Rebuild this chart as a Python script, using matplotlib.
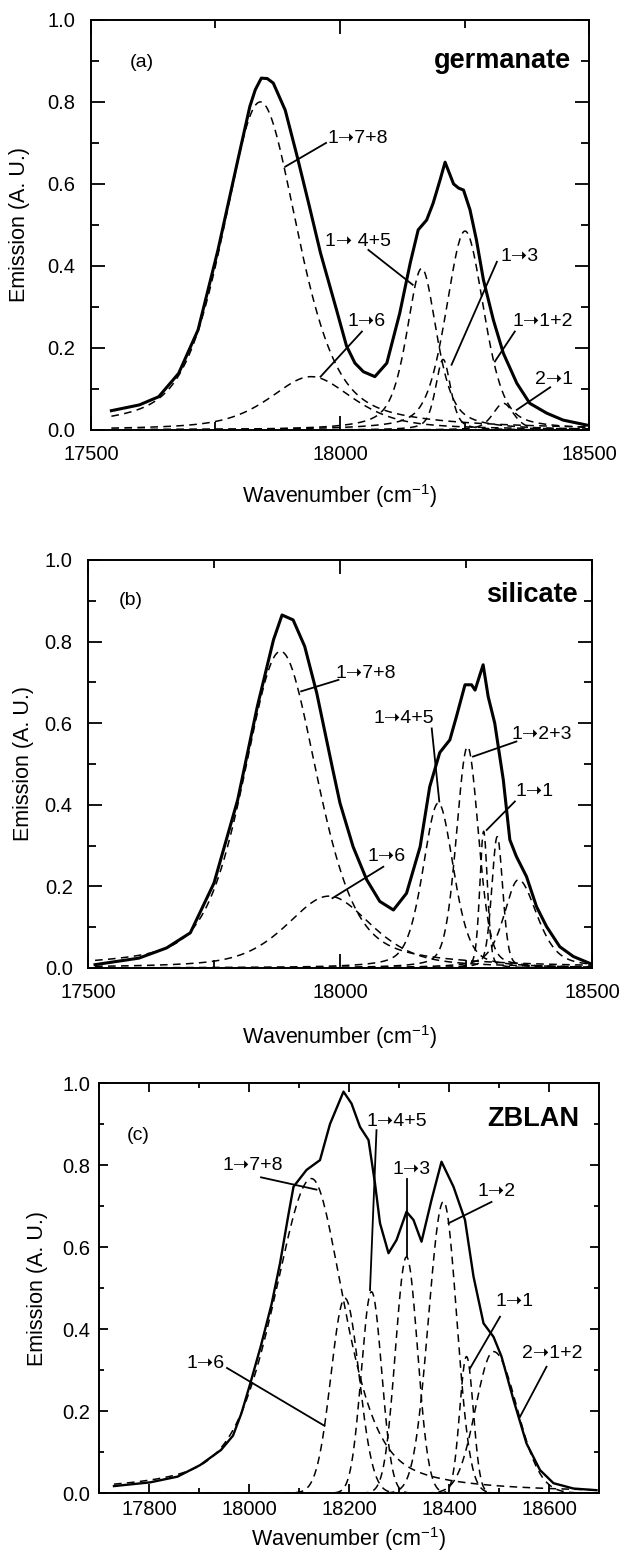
import numpy as np
import matplotlib.pyplot as plt
from matplotlib.ticker import MultipleLocator

plt.rcParams['font.family'] = ['Liberation Sans', 'DejaVu Sans']
plt.rcParams['mathtext.fontset'] = 'custom'
plt.rcParams['mathtext.rm'] = 'Liberation Sans'
plt.rcParams['mathtext.it'] = 'Liberation Sans:italic'

ARR = "\u279D"

germ_x = [17541, 17597, 17636, 17676, 17715, 17755, 17795, 17819, 17830, 17842,
          17854, 17866, 17890, 17914, 17937, 17961, 17993, 18013, 18030, 18047,
          18070, 18094, 18120, 18141, 18157, 18174, 18187, 18201, 18211, 18228,
          18238, 18248, 18261, 18274, 18288, 18308, 18328, 18355, 18381, 18415,
          18448, 18495]
germ_y = [0.047, 0.061, 0.081, 0.138, 0.244, 0.439, 0.659, 0.789, 0.83, 0.858,
          0.857, 0.846, 0.78, 0.667, 0.553, 0.431, 0.293, 0.205, 0.163, 0.142,
          0.13, 0.163, 0.285, 0.407, 0.488, 0.512, 0.553, 0.61, 0.653, 0.60,
          0.59, 0.585, 0.537, 0.463, 0.366, 0.268, 0.187, 0.114, 0.065, 0.041,
          0.024, 0.012]
# fitted components: centre, height, half widths (low / high side), lorentzian fraction
germ_center = [17840, 17942, 18164, 18207, 18251, 18328]
germ_height = [0.80, 0.13, 0.394, 0.172, 0.485, 0.065]
germ_wlo = [90, 100, 36, 18, 45, 25]
germ_whi = [90, 100, 36, 18, 45, 25]
germ_eta = [0.5, 0.6, 0.6, 0.5, 0.4, 0.5]

# ---- (b) silicate
sil_x = [17514, 17601, 17656, 17703, 17750, 17797, 17836, 17868, 17885, 17907,
         17930, 17954, 17985, 18000, 18026, 18053, 18079, 18106, 18132, 18159,
         18178, 18198, 18218, 18231, 18248, 18261, 18268, 18278, 18284, 18294,
         18307, 18324, 18337, 18350, 18370, 18390, 18410, 18436, 18463, 18496]
sil_y = [0.008, 0.024, 0.049, 0.086, 0.208, 0.412, 0.641, 0.804, 0.865, 0.853,
         0.788, 0.673, 0.49, 0.404, 0.297, 0.216, 0.163, 0.142, 0.183, 0.297,
         0.444, 0.528, 0.559, 0.616, 0.694, 0.694, 0.681, 0.72, 0.743, 0.665,
         0.60, 0.461, 0.314, 0.273, 0.224, 0.15, 0.101, 0.052, 0.028, 0.011]
sil_center = [17882, 17978, 18195, 18253, 18285, 18312, 18354]
sil_height = [0.776, 0.176, 0.404, 0.542, 0.335, 0.322, 0.216]
sil_wlo = [87, 100, 36, 26, 9, 13, 34]
sil_whi = [87, 100, 36, 26, 9, 13, 44]
sil_eta = [0.45, 0.5, 0.4, 0.3, 0.3, 0.3, 0.5]

# ---- (c) ZBLAN
zb_x = [17730, 17802, 17857, 17902, 17944, 17968, 17985, 18002, 18024, 18045,
        18062, 18079, 18089, 18115, 18142, 18162, 18189, 18205, 18222, 18239,
        18252, 18262, 18279, 18295, 18315, 18329, 18345, 18365, 18385, 18409,
        18432, 18449, 18469, 18489, 18505, 18529, 18555, 18582, 18609, 18649,
        18695]
zb_y = [0.017, 0.026, 0.04, 0.068, 0.105, 0.14, 0.195, 0.265, 0.36, 0.46,
        0.56, 0.68, 0.747, 0.788, 0.812, 0.90, 0.979, 0.95, 0.893, 0.861,
        0.755, 0.658, 0.585, 0.617, 0.686, 0.666, 0.613, 0.715, 0.808, 0.747,
        0.666, 0.528, 0.414, 0.381, 0.333, 0.227, 0.121, 0.056, 0.024, 0.011,
        0.007]
zb_center = [18125, 18192, 18245, 18315, 18389, 18435, 18489]
zb_height = [0.767, 0.475, 0.491, 0.576, 0.711, 0.333, 0.345]
zb_wlo = [92, 33, 24, 26, 35, 16, 42]
zb_whi = [78, 33, 24, 26, 31, 16, 55]
zb_eta = [0.55, 0, 0, 0, 0, 0, 0]


def component(x, c, h, wlo, whi, eta):
    w = np.where(x < c, wlo, whi)
    d = (x - c) / w
    return h * ((1 - eta) * np.exp(-np.log(2) * d ** 2) + eta / (1 + d ** 2))


# label text position, then pointer line start -> end (data coords)
germ_labels = [
    ("1" + ARR + "7+8", 18036, 0.711, (17972, 0.70), (17890, 0.642)),
    ("1" + ARR + " 4+5", 18036, 0.459, (18057, 0.439), (18146, 0.354)),
    ("1" + ARR + "3", 18361, 0.423, (18315, 0.41), (18224, 0.159)),
    ("1" + ARR + "6", 18054, 0.264, (18044, 0.24), (17961, 0.13)),
    ("1" + ARR + "1+2", 18408, 0.264, (18351, 0.24), (18311, 0.167)),
    ("2" + ARR + "1", 18430, 0.122, (18422, 0.104), (18355, 0.049)),
]
sil_labels = [
    ("1" + ARR + "7+8", 18052, 0.722, (17997, 0.706), (17923, 0.678)),
    ("1" + ARR + "4+5", 18126, 0.612, (18182, 0.587), (18197, 0.408)),
    ("1" + ARR + "2+3", 18401, 0.571, (18350, 0.555), (18264, 0.518)),
    ("1" + ARR + "1", 18387, 0.432, (18347, 0.408), (18291, 0.338)),
    ("1" + ARR + "6", 18093, 0.273, (18086, 0.248), (17985, 0.171)),
]
zb_labels = [
    ("1" + ARR + "7+8", 18008, 0.80, (18024, 0.77), (18135, 0.74)),
    ("1" + ARR + "4+5", 18295, 0.906, (18255, 0.885), (18242, 0.495)),
    ("1" + ARR + "3", 18325, 0.788, (18315, 0.767), (18315, 0.576)),
    ("1" + ARR + "2", 18495, 0.735, (18485, 0.71), (18399, 0.658)),
    ("1" + ARR + "1", 18532, 0.467, (18502, 0.43), (18442, 0.304)),
    ("2" + ARR + "1+2", 18607, 0.341, (18595, 0.308), (18542, 0.186)),
    ("1" + ARR + "6", 17913, 0.317, (17956, 0.305), (18151, 0.164)),
]

panels = [
    dict(rect=[0.1465, 0.7258, 0.802, 0.2615], xlim=(17500, 18500), major=500, minor=250,
         tx=germ_x, ty=germ_y, pk=(germ_center, germ_height, germ_wlo, germ_whi, germ_eta),
         labels=germ_labels, tag="(a)", tagpos=(17602, 0.895), name="germanate",
         namepos=(18464, 0.90), lw=2.2, tick=(10, 5.5), pad=11, ypad=11.5,
         xl=-0.127, yl=-0.1225),
    dict(rect=[0.1417, 0.3827, 0.8116, 0.2602], xlim=(17500, 18500), major=500, minor=250,
         tx=sil_x, ty=sil_y, pk=(sil_center, sil_height, sil_wlo, sil_whi, sil_eta),
         labels=sil_labels, tag="(b)", tagpos=(17585, 0.90), name="silicate",
         namepos=(18472, 0.915), lw=2.2, tick=(10, 5.5), pad=11, ypad=11,
         xl=-0.135, yl=-0.107),
    dict(rect=[0.1594, 0.0478, 0.8052, 0.2615], xlim=(17700, 18700), major=200, minor=100,
         tx=zb_x, ty=zb_y, pk=(zb_center, zb_height, zb_wlo, zb_whi, zb_eta),
         labels=zb_labels, tag="(c)", tagpos=(17778, 0.872), name="ZBLAN",
         namepos=(18660, 0.912), lw=1.7, tick=(6.5, 3.8), pad=5, ypad=6.5,
         xl=-0.078, yl=-0.102),
]

fig = plt.figure(figsize=(6.21, 15.68), dpi=100)

for p in panels:
    ax = fig.add_axes(p["rect"])
    x0, x1 = p["xlim"]
    xs = np.linspace(p["tx"][0], x1, 900)
    for c, h, wlo, whi, eta in zip(*p["pk"]):
        ax.plot(xs, component(xs, c, h, wlo, whi, eta), color="black", lw=1.1,
                dashes=(5, 3.5))
    ax.plot(p["tx"], p["ty"], color="black", lw=p["lw"], solid_joinstyle="round")

    for txt, lx, ly, (sx, sy), (ex, ey) in p["labels"]:
        ax.text(lx, ly, txt, fontsize=14, ha="center", va="center")
        ax.plot([sx, ex], [sy, ey], color="black", lw=1.3)

    ax.text(p["tagpos"][0], p["tagpos"][1], p["tag"], fontsize=14, ha="center", va="center")
    ax.text(p["namepos"][0], p["namepos"][1], p["name"], fontsize=19.5, fontweight="bold",
            ha="right", va="center")

    ax.set_xlim(x0, x1)
    ax.set_ylim(0, 1.0)
    ax.xaxis.set_major_locator(MultipleLocator(p["major"]))
    ax.xaxis.set_minor_locator(MultipleLocator(p["minor"]))
    ax.yaxis.set_major_locator(MultipleLocator(0.2))
    ax.yaxis.set_minor_locator(MultipleLocator(0.1))
    ax.yaxis.set_major_formatter(plt.FuncFormatter(lambda v, _: f"{v:.1f}"))
    ax.tick_params(which="both", direction="in", top=True, right=True, width=1.3,
                   labelsize=14.5)
    ax.tick_params(axis="x", which="both", pad=p["pad"])
    ax.tick_params(axis="y", which="both", pad=p["ypad"])
    ax.tick_params(which="major", length=p["tick"][0])
    ax.tick_params(which="minor", length=p["tick"][1])
    for s in ax.spines.values():
        s.set_linewidth(1.4)

    ax.set_xlabel("Wavenumber (cm$^{-1}$)", fontsize=15.5)
    ax.set_ylabel("Emission (A. U.)", fontsize=15.5)
    ax.xaxis.set_label_coords(0.5, p["xl"])
    ax.yaxis.set_label_coords(p["yl"], 0.5)

fig.savefig("out.png", dpi=100)
